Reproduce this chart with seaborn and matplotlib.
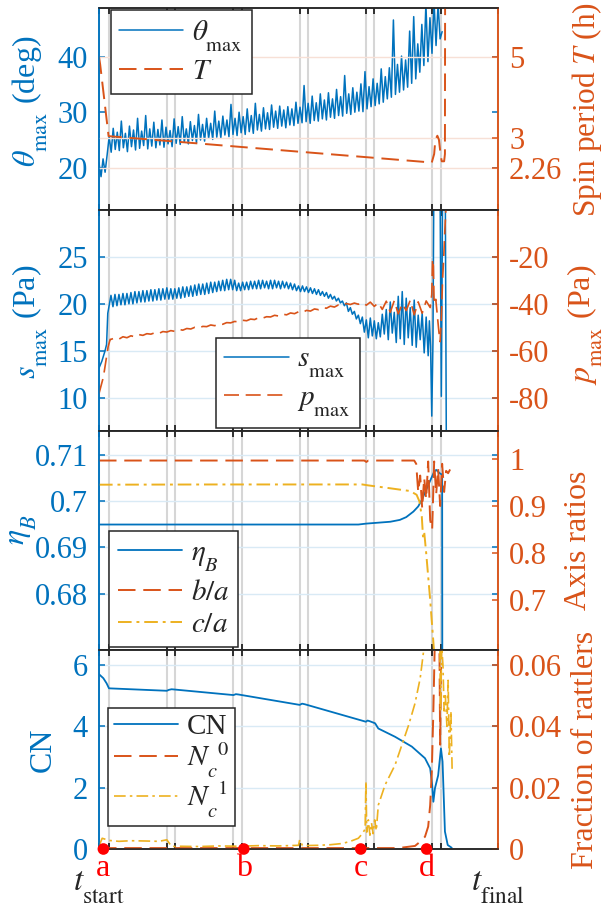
import numpy as np
import matplotlib
matplotlib.use("Agg")
import matplotlib.pyplot as plt
from matplotlib import transforms
import seaborn as sns

try:  # MATLAB-like deeper subscripts
    import matplotlib._mathtext as _mt
    _mt.STIXFontConstants.sub1 = 0.9
    _mt.STIXFontConstants.subdrop = 0.6
except Exception:
    pass

# ---------------- data ----------------
x_ticks = [2.5, 17.1, 19.0, 33.6, 35.8, 50.3, 52.3, 66.9, 69.0, 83.5, 85.7]
event_t = [1.1, 36.3, 65.6, 82.1]
event_labels = ["a", "b", "c", "d"]

# panel 1 : theta_max (deg), sampled uniformly from t_start to its end
theta_t_end = 86.0
theta_max = [
    20.9, 18.4, 21.6, 19.2, 22.3, 25.6, 22.8, 27.1, 23.3, 26.4,
    23.1, 28.4, 23.6, 26.2, 22.9, 27.5, 23.8, 26.8, 23.2, 28.9,
    23.5, 26.6, 24.0, 29.4, 23.4, 27.0, 23.9, 28.2, 23.6, 26.9,
    24.1, 28.6, 23.7, 27.3, 24.3, 26.7, 23.8, 28.8, 24.4, 27.4,
    24.2, 29.2, 24.6, 27.0, 24.3, 28.3, 24.9, 27.6, 24.5, 29.6,
    25.0, 27.8, 24.8, 28.9, 25.3, 28.0, 25.1, 30.2, 25.5, 28.4,
    25.4, 29.3, 25.9, 28.6, 25.6, 31.4, 26.0, 28.9, 25.8, 30.0,
    26.3, 29.2, 26.0, 30.6, 26.5, 29.4, 26.2, 31.6, 26.8, 29.6,
    26.6, 30.8, 27.0, 29.9, 26.9, 31.3, 27.3, 30.2, 27.1, 31.1,
    27.5, 30.4, 27.2, 31.0, 27.7, 30.6, 27.6, 31.8, 28.0, 30.9,
    28.1, 34.8, 28.3, 31.6, 28.0, 32.9, 28.5, 31.7, 28.4, 33.3,
    28.8, 32.2, 28.6, 33.5, 29.1, 32.4, 28.9, 34.1, 29.4, 32.8,
    29.3, 36.6, 29.8, 33.3, 29.6, 34.4, 30.0, 33.6, 30.2, 35.1,
    30.1, 37.3, 30.6, 34.6, 31.0, 36.0, 31.2, 35.2, 31.5, 37.8,
    31.8, 36.4, 32.4, 38.0, 32.7, 46.6, 33.2, 38.6, 33.6, 40.1,
    34.0, 39.4, 34.5, 44.6, 35.2, 47.2, 36.0, 42.3, 37.2, 45.8,
    38.4, 49.5, 39.1, 47.0, 40.6, 50.0, 42.0, 49.5, 43.2, 44.5,
]
# spin period T (h)
T_t = [0, 0.3, 2.4, 83.4, 84.0, 84.3, 84.8, 85.2, 85.6, 85.9, 86.5, 86.7, 86.75]
T_h = [5.0, 4.8, 3.04, 2.39, 2.6, 2.95, 3.05, 2.95, 2.6, 2.42, 2.42, 2.6, 7.0]

# panel 2 : s_max (Pa)
s_head_t = [0, 0.7, 1.5, 1.9, 2.2]
s_head = [13.2, 13.9, 15.0, 15.7, 19.0]
s_mid_range = (2.5, 82.5)
s_mid = [
    19.7, 20.9, 19.7, 21.0, 19.8, 21.0, 19.9, 21.1, 19.9, 21.1,
    20.0, 21.2, 20.0, 21.3, 20.1, 21.3, 20.2, 21.4, 20.2, 21.4,
    20.3, 21.5, 20.3, 21.5, 20.4, 21.6, 20.4, 21.6, 20.5, 21.7,
    20.5, 21.6, 20.5, 21.6, 20.6, 21.7, 20.6, 21.8, 20.7, 21.8,
    20.8, 21.9, 20.8, 22.0, 20.9, 22.1, 21.0, 22.1, 21.0, 22.2,
    21.1, 22.3, 21.2, 22.3, 21.3, 22.4, 21.4, 22.5, 21.4, 22.6,
    21.5, 22.6, 21.5, 22.5, 21.4, 22.2, 21.4, 22.3, 21.5, 22.3,
    21.5, 22.4, 21.6, 22.4, 21.6, 22.5, 21.6, 22.5, 21.7, 22.4,
    21.6, 22.5, 21.6, 22.5, 21.7, 22.4, 21.6, 22.4, 21.7, 22.3,
    21.6, 22.2, 21.5, 22.1, 21.4, 21.9, 21.3, 21.9, 21.3, 21.8,
    21.2, 21.7, 21.1, 21.6, 21.0, 21.5, 20.9, 21.3, 20.8, 21.2,
    20.6, 21.0, 20.5, 20.8, 20.3, 20.6, 20.1, 20.3, 19.8, 20.1,
    19.2, 19.6, 18.9, 19.2, 18.4, 18.8, 17.9, 18.6, 17.0, 18.3,
    16.4, 18.5, 16.6, 18.2, 16.3, 18.0, 16.5, 18.9, 16.8, 19.4,
    16.2, 20.2, 16.9, 19.1, 15.9, 20.8, 16.3, 21.3, 15.7, 20.6,
    16.4, 19.6, 15.6, 20.4, 15.4, 18.8, 16.2, 19.0, 14.8, 18.6,
    14.5,
]
s_tail_t = [82.8, 83.1, 83.4, 83.7, 83.9, 84.5, 85.5, 85.8, 86.1, 86.8, 87.05]
s_tail = [18.2, 15.5, 8.1, 16.0, 31.0, 31.0, 31.0, 10.2, 31.0, 31.0, 5.0]

# p_max (Pa)
p_head_t = [0, 1.1, 2.3, 2.8]
p_head = [-78.0, -71.0, -58.0, -55.0]
p_mid_range = (3.0, 83.0)
p_mid = [
    -55.0, -54.4, -54.9, -53.9, -54.3, -53.5, -53.9, -53.0, -53.3, -52.6,
    -52.8, -52.2, -52.5, -51.7, -51.9, -51.3, -51.6, -50.8, -51.1, -50.4,
    -50.6, -49.9, -50.2, -49.5, -49.6, -48.9, -49.2, -48.5, -48.6, -47.9,
    -48.0, -47.4, -47.6, -46.9, -47.1, -46.4, -46.6, -45.8, -46.0, -45.4,
    -45.5, -44.8, -45.1, -44.3, -44.6, -43.8, -44.1, -43.3, -43.6, -42.7,
    -43.0, -42.1, -42.4, -41.5, -41.8, -40.9, -41.3, -40.4, -40.6, -39.8,
    -40.2, -39.6, -40.1, -39.4, -40.5, -39.2, -41.0, -39.5, -42.3, -38.8,
    -43.5, -38.6, -44.2, -39.9, -42.8, -38.4, -44.6, -39.1, -43.9, -38.7,
    -41.5,
]
p_tail_t = [83.4, 83.6, 83.8, 84.0, 84.4, 84.8, 85.2, 85.5, 85.8, 86.1, 86.4, 86.7, 87.0]
p_tail = [-36.0, -21.0, -24.0, -40.0, -38.0, -45.0, -52.0, -56.0, -46.0, -30.0, -20.0, -8.0, 2.0]

# panel 3 : eta_B and axis ratios
eta_t = [0, 65, 67, 70, 73, 75.4, 77, 78.8, 80, 80.9, 82.5, 84.0, 84.5, 85.5, 86.0, 86.05]
eta_B = [0.6949, 0.6949, 0.6951, 0.6953, 0.6955, 0.6959, 0.6965, 0.6977, 0.6988,
         0.7002, 0.7034, 0.7063, 0.7067, 0.7059, 0.7057, 0.66]
ba_t = [0, 66.5, 67, 67.5, 79, 79.5, 80, 80.5, 81, 81.5, 82, 82.5, 83, 83.5,
        84, 84.5, 85, 85.5, 86, 86.5, 87, 87.5, 88]
b_over_a = [0.997, 0.997, 0.994, 0.997, 0.997, 0.99, 0.93, 0.965, 0.895, 0.96, 0.915,
            0.995, 0.87, 0.85, 0.995, 0.925, 0.98, 0.90, 0.99, 0.93, 0.975, 0.97, 0.978]
ca_t = [0, 30, 66, 67.5, 72, 75.4, 78, 79.6, 80.3, 80.9, 81.2, 81.5, 82, 83, 83.8, 84.3]
c_over_a = [0.9455, 0.946, 0.946, 0.944, 0.939, 0.935, 0.932, 0.924, 0.91, 0.878,
            0.835, 0.845, 0.80, 0.70, 0.61, 0.55]

# panel 4 : coordination number and rattlers
cn_t = [0, 1.09, 1.92, 2.5, 17.0, 17.5, 18.2, 33.7, 34.3, 34.9, 50.3, 50.9, 51.6,
        66.9, 67.3, 67.8, 69.2, 70.0, 74.2, 78.4, 81.7, 83.0, 83.5, 83.8, 84.2,
        85.0, 85.7, 86.1, 86.7, 87.4, 88.4]
CN = [5.70, 5.57, 5.40, 5.24, 5.16, 5.19, 5.21, 5.02, 5.05, 5.04, 4.70, 4.74, 4.72,
      4.15, 4.19, 4.17, 4.10, 3.93, 3.66, 3.34, 2.96, 2.63, 2.09, 1.54, 1.98,
      2.40, 3.28, 2.85, 0.57, 0.13, 0.04]
nc0_t = [0, 75, 79.2, 80.5, 81.7, 82.5, 83.0, 83.4, 83.8, 84.2, 85.3, 85.5, 85.8, 86.5]
Nc0 = [0.0003, 0.0003, 0.0010, 0.0024, 0.0040, 0.0073, 0.0143, 0.025, 0.045, 0.07,
       0.07, 0.034, 0.07, 0.07]
nc1_t = [0, 0.8, 2.5, 5, 8, 12, 15, 17.0, 18.2, 20,
         25, 30, 35, 40, 45, 50, 50.3, 51, 55, 58,
         61, 63, 65, 66.0, 66.7, 66.9, 67.1, 67.5, 67.9, 68.3,
         68.7, 69.1, 69.5, 70.0, 71.7, 74.2, 75.9, 77.6, 79.2, 80.5,
         81.3, 81.8, 85.4, 85.6, 85.9, 86.2, 86.5, 86.8, 87.2, 87.5,
         87.8, 88.2, 88.5]
Nc1 = [0.0010, 0.0035, 0.0028, 0.0025, 0.0027, 0.0026, 0.0025, 0.0030, 0.0008, 0.0009,
       0.0008, 0.0010, 0.0009, 0.0011, 0.0010, 0.0012, 0.0030, 0.0011, 0.0012, 0.0014,
       0.0018, 0.0025, 0.0035, 0.0050, 0.0065, 0.0220, 0.0055, 0.0095, 0.0045, 0.0085,
       0.0050, 0.0095, 0.0060, 0.0143, 0.0209, 0.0274, 0.0339, 0.0404, 0.0475, 0.0557,
       0.0640, 0.0700, 0.0700, 0.0450, 0.0660, 0.0600, 0.0450, 0.0500, 0.0400, 0.0550,
       0.0300, 0.0450, 0.0260]

# ---------------- style ----------------
sns.set_theme(style="white")
plt.rcParams["font.family"] = ["Liberation Serif", "DejaVu Serif"]
plt.rcParams["mathtext.fontset"] = "stix"
plt.rcParams["axes.unicode_minus"] = False

BLUE = "#0072BD"
ORANGE = "#D95319"
YELLOW = "#EDB120"
DARK = "#262626"
VGRID = "#d6d6d6"
BGRID = "#d9eaf5"
OGRID = "#f7e0d6"
TICK_FS = 22
LAB_FS = 23
LEG_FS = 21
LW = 1.3
DASH = (0, (9, 4))
DASHDOT = (0, (7, 2.5, 1.5, 2.5))

W, H = 608, 909
fig = plt.figure(figsize=(W / 100, H / 100), dpi=100)
L_px, R_px = 99, 498
panel_px = [(8.3, 210), (210, 431), (431, 650), (650, 849)]


def make_panel(top, bot):
    ax = fig.add_axes([L_px / W, 1 - bot / H, (R_px - L_px) / W, (bot - top) / H])
    axr = ax.twinx()
    ax.set_facecolor("white")
    ax.set_xlim(0, 100)
    ax.set_xticks([0] + x_ticks + [100])
    ax.tick_params(axis="x", which="major", direction="in", top=True, bottom=True,
                   length=4.5, width=1.1, color="black", labelbottom=False)
    ax.grid(axis="x", color=VGRID, lw=1.5)
    ax.set_axisbelow(True)
    ax.tick_params(axis="y", direction="in", left=True, right=True, length=4.5,
                   width=1.1, colors=BLUE, labelsize=TICK_FS, pad=8)
    axr.tick_params(axis="y", direction="in", right=True, left=False, length=4.5,
                    width=1.1, colors=ORANGE, labelsize=TICK_FS, pad=8)
    for a in (ax, axr):
        a.spines["left"].set_color(BLUE)
        a.spines["right"].set_color(ORANGE)
        a.spines["top"].set_color(DARK)
        a.spines["bottom"].set_color(DARK)
        for s in a.spines.values():
            s.set_linewidth(1.1)
    return ax, axr


def line(ax, x, y, color, ls="-", lw=LW):
    sns.lineplot(x=np.asarray(x, float), y=np.asarray(y, float), ax=ax, color=color,
                 linestyle=ls, linewidth=lw, estimator=None, sort=False, legend=False)
    return ax.lines[-1]


def legend(axr, handles, labels, anchor, loc="upper left", **kw):
    leg = axr.legend(handles, labels, loc=loc, bbox_to_anchor=anchor,
                     fontsize=LEG_FS, frameon=True, fancybox=False, framealpha=1,
                     edgecolor=DARK, borderaxespad=0, handlelength=2.2,
                     handletextpad=0.3, **kw)
    leg.get_frame().set_linewidth(1.1)
    return leg


axes = [make_panel(t, b) for t, b in panel_px]

# ---- panel 1
ax, axr = axes[0]
h1 = line(ax, np.linspace(0, theta_t_end, len(theta_max)), theta_max, BLUE, lw=1.1)
h2 = line(axr, T_t, T_h, ORANGE, DASH, lw=1.4)
ax.set_ylim(12.4, 48.7)
ax.set_yticks([20, 30, 40])
ax.set_yticklabels(["20", "30", "40"])
axr.set_ylim(1.22, 6.19)
axr.set_yticks([2.26, 3, 5])
axr.set_yticklabels(["2.26", "3", "5"])
axr.grid(axis="y", color=OGRID, lw=1.0)
ax.set_ylabel(r"$\theta_{\rm max}$ (deg)", color=BLUE, fontsize=LAB_FS)
ax.yaxis.set_label_coords(-0.123, 0.537)
axr.set_ylabel(r"Spin period $T$ (h)", color=ORANGE, fontsize=22.5)
axr.yaxis.set_label_coords(1.180, 0.497)
legend(axr, [h1, h2], [r"$\theta_{\rm max}$", r"$T$"], (0.029, 0.992),
       borderpad=0.3, labelspacing=0.15)

# ---- panel 2
ax, axr = axes[1]
s_t = np.concatenate([s_head_t, np.linspace(*s_mid_range, len(s_mid)), s_tail_t])
s_v = np.concatenate([s_head, s_mid, s_tail])
p_t = np.concatenate([p_head_t, np.linspace(*p_mid_range, len(p_mid)), p_tail_t])
p_v = np.concatenate([p_head, p_mid, p_tail])
h1 = line(ax, s_t, s_v, BLUE, lw=1.1)
h2 = line(axr, p_t, p_v, ORANGE, DASH, lw=1.2)
ax.set_ylim(6.52, 29.95)
ax.set_yticks([10, 15, 20, 25])
ax.set_yticklabels(["10", "15", "20", "25"])
axr.set_ylim(-93.9, -0.1)
axr.set_yticks([-80, -60, -40, -20])
axr.set_yticklabels(["-80", "-60", "-40", "-20"])
ax.grid(axis="y", color=BGRID, lw=1.0)
ax.set_ylabel(r"$s_{\rm max}$ (Pa)", color=BLUE, fontsize=LAB_FS)
ax.yaxis.set_label_coords(-0.123, 0.493)
axr.set_ylabel(r"$p_{\rm max}$ (Pa)", color=ORANGE, fontsize=LAB_FS)
axr.yaxis.set_label_coords(1.168, 0.48)
legend(axr, [h1, h2], [r"$s_{\rm max}$", r"$p_{\rm max}$"], (0.2925, 0.0149),
       loc="lower left", borderpad=0.3, labelspacing=0.15)

# ---- panel 3
ax, axr = axes[2]
h1 = line(ax, eta_t, eta_B, BLUE)
h2 = line(axr, ba_t, b_over_a, ORANGE, DASH, lw=1.4)
h3 = line(axr, ca_t, c_over_a, YELLOW, DASHDOT, lw=1.4)
ax.set_ylim(0.6678, 0.7151)
ax.set_yticks([0.68, 0.69, 0.70, 0.71])
ax.set_yticklabels(["0.68", "0.69", "0.7", "0.71"])
axr.set_ylim(0.593, 1.060)
axr.set_yticks([0.7, 0.8, 0.9, 1.0])
axr.set_yticklabels(["0.7", "0.8", "0.9", "1"])
ax.grid(axis="y", color=BGRID, lw=1.0)
ax.set_ylabel(r"$\eta_B$", color=BLUE, fontsize=LAB_FS)
ax.yaxis.set_label_coords(-0.150, 0.548)
axr.set_ylabel("Axis ratios", color=ORANGE, fontsize=LAB_FS)
axr.yaxis.set_label_coords(1.165, 0.50)
legend(axr, [h1, h2, h3], [r"$\eta_B$", r"$b/a$", r"$c/a$"], (0.025, 0.543),
       borderpad=0.3, labelspacing=0.2)

# ---- panel 4
ax, axr = axes[3]
h1 = line(ax, cn_t, CN, BLUE)
h2 = line(axr, nc0_t, Nc0, ORANGE, DASH, lw=1.4)
h3 = line(axr, nc1_t, Nc1, YELLOW, DASHDOT, lw=1.2)
ax.set_ylim(0, 6.49)
ax.set_yticks([0, 2, 4, 6])
ax.set_yticklabels(["0", "2", "4", "6"])
axr.set_ylim(0, 0.0649)
axr.set_yticks([0, 0.02, 0.04, 0.06])
axr.set_yticklabels(["0", "0.02", "0.04", "0.06"])
ax.grid(axis="y", color=BGRID, lw=1.0)
ax.set_ylabel("CN", color=BLUE, fontsize=LAB_FS)
ax.yaxis.set_label_coords(-0.103, 0.497)
axr.set_ylabel("Fraction of rattlers", color=ORANGE, fontsize=LAB_FS)
axr.yaxis.set_label_coords(1.182, 0.497)
legend(axr, [h1, h2, h3], ["CN", r"$N_c{}^0$", r"$N_c{}^1$"], (0.0233, 0.7085),
       borderpad=0.2, labelspacing=0.0)

xt_labels = [r"$t_{\rm start}$"] + [""] * len(x_ticks) + [r"$t_{\rm final}$"]
ax.set_xticklabels(xt_labels)
ax.tick_params(axis="x", labelbottom=True, labelsize=24, labelcolor=DARK, pad=15)

sns.scatterplot(x=event_t, y=[0.0] * len(event_t), ax=axr, color="red", s=70,
                edgecolor="none", zorder=10, clip_on=False, legend=False)
trans = transforms.blended_transform_factory(axr.transData, axr.transAxes)
for t, lab in zip(event_t, event_labels):
    axr.text(t, -0.098, lab, transform=trans, color="red", fontsize=LAB_FS,
             ha="center", va="center")

fig.savefig("out.png", dpi=100)
